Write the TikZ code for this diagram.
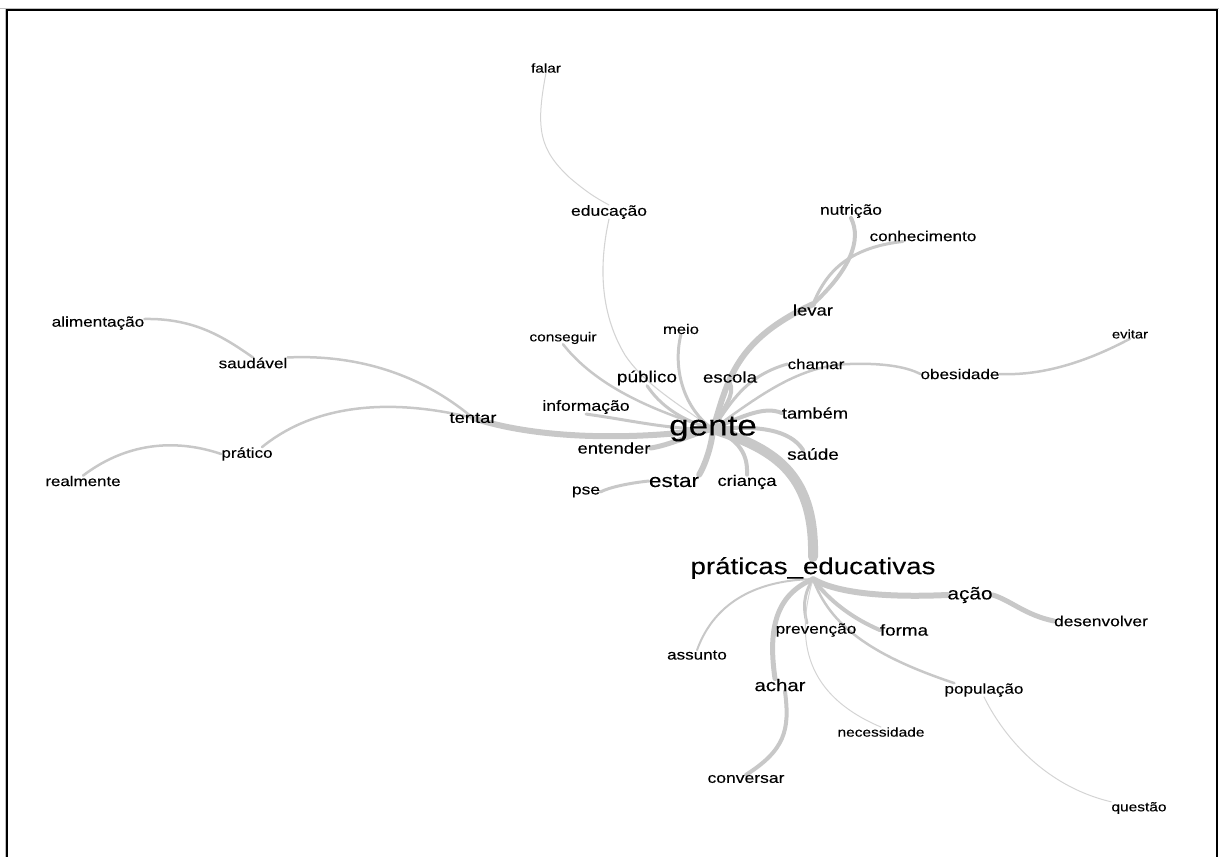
\documentclass[tikz,border=0pt]{standalone}
\usepackage{fontspec}
\setmainfont{Liberation Sans}[FakeStretch=1.2,FakeBold=0.15]
\usetikzlibrary{backgrounds,calc}
\definecolor{eg}{RGB}{200,200,200}
\definecolor{egl}{RGB}{212,212,212}
\begin{document}
\begin{tikzpicture}[x=1pt,y=-1pt,
  wd/.style={inner sep=0pt, yshift=-2pt, text=black, font=\fontsize{#1}{#1}\selectfont},
  ln/.style={draw=eg, line width=#1, line cap=round},
  lnt/.style={draw=egl, line width=#1, line cap=round}]
\useasboundingbox (0,0) rectangle (1219,857);
% frame
\draw[gray!50, line width=0.8pt] (0,8.3) -- (1219,8.3);
\draw[gray!50, line width=0.8pt] (5,8.3) -- (5,857);
\draw[black, line width=2.4pt] (7,880) -- (7,10) -- (1217,10) -- (1217,880);

% words
\node[wd=12.8] (falar) at (546,66) {falar};
\node[wd=14.6] (educacao) at (609,210) {educação};
\node[wd=14.5] (nutricao) at (851,209) {nutrição};
\node[wd=14.3] (conhecimento) at (923,234) {conhecimento};
\node[wd=15.4] (levar) at (813,308) {levar};
\node[wd=14.3] (alimentacao) at (98,321) {alimentação};
\node[wd=13.8] (meio) at (681,327) {meio};
\node[wd=12.9] (conseguir) at (563,336) {conseguir};
\node[wd=12.3] (evitar) at (1130,332) {evitar};
\node[wd=14.3] (saudavel) at (253,361) {saudável};
\node[wd=14.2] (chamar) at (816,362) {chamar};
\node[wd=14.25] (obesidade) at (960,372) {obesidade};
\node[wd=15.8] (publico) at (647,376) {público};
\node[wd=15.6] (escola) at (730,375) {escola};
\node[wd=14.7] (informacao) at (586,405) {informação};
\node[wd=15.3] (tentar) at (473,416) {tentar};
\node[wd=15.25] (tambem) at (815,411) {também};
\node[wd=29.2] (gente) at (713,427) {gente};
\node[wd=15.4] (entender) at (614,446) {entender};
\node[wd=14.2] (pratico) at (247,452) {prático};
\node[wd=15.8] (saude) at (813,452) {saúde};
\node[wd=14.1] (realmente) at (83,479) {realmente};
\node[wd=18.75] (estar) at (674,479) {estar};
\node[wd=15.25] (crianca) at (747,480) {criança};
\node[wd=14.5] (pse) at (586,490) {pse};
\node[wd=23.1] (praticas) at (813,566) {práticas\_educativas};
\node[wd=17.3] (acao) at (970,593) {ação};
\node[wd=14.5] (desenvolver) at (1101,619) {desenvolver};
\node[wd=14.4] (prevencao) at (816,628) {prevenção};
\node[wd=15.7] (forma) at (904,628) {forma};
\node[wd=14.2] (assunto) at (697,653) {assunto};
\node[wd=17] (achar) at (780,683) {achar};
\node[wd=14.25] (populacao) at (984,688) {população};
\node[wd=12.9] (necessidade) at (881,730) {necessidade};
\node[wd=14.6] (conversar) at (746,777) {conversar};
\node[wd=12.9] (questao) at (1139,806) {questão};

\begin{pgfonlayer}{background}
% gente hub
\draw[ln=10pt] (gente.center) .. controls (770,448) and (815,470) .. (praticas.north);
\draw[ln=6pt] (gente.center) .. controls (620,442) and (530,437) .. (tentar.center);
\draw[ln=6pt] (gente.center) .. controls (728,380) and (735,340) .. (levar.north);
\draw[lnt=1.1pt] (gente.center) .. controls (680,405) and (645,385) .. (625,355)
   .. controls (598,310) and (600,260) .. (educacao.south);
\draw[ln=3pt] (gente.center) .. controls (685,410) and (672,370) .. (meio.south);
\draw[ln=3pt] (gente.center) .. controls (680,420) and (660,405) .. (publico.south);
\draw[ln=2.5pt] (gente.center) .. controls (650,410) and (595,385) .. (conseguir.south);
\draw[ln=3pt] (gente.center) .. controls (670,430) and (630,420) .. (informacao.south);
\draw[ln=5pt] (gente.center) .. controls (690,435) and (670,445) .. (entender.east);
\draw[ln=6pt] (gente.center) .. controls (712,445) and (705,465) .. (estar.north east);
\draw[ln=4pt] (gente.center) .. controls (740,440) and (748,455) .. (crianca.north);
\draw[ln=4pt] (gente.center) .. controls (760,425) and (790,430) .. ($(saude.north)+(-10,2)$);
\draw[ln=4pt] (gente.center) .. controls (745,415) and (765,406) .. (tambem.west);
\draw[ln=4pt] (gente.center) .. controls (725,405) and (735,395) .. (escola.south);
\draw[ln=3pt] (gente.center) .. controls (735,395) and (750,375) .. (chamar.west);
\draw[ln=2.5pt] (gente.center) .. controls (760,395) and (800,365) .. (850,364)
   .. controls (880,363) and (905,366) .. (obesidade.west);
% outer branches top
\draw[lnt=1pt] (falar.south) .. controls (535,130) and (540,150) .. (570,178)
   .. controls (590,195) and (600,200) .. (educacao.north);
\draw[ln=4pt] (levar.north) .. controls (850,270) and (862,240) .. (nutricao.south);
\draw[ln=3pt] (levar.north) .. controls (825,275) and (845,248) .. ($(conhecimento.south)+(-20,0)$);
\draw[ln=2.5pt] (obesidade.east) .. controls (1045,376) and (1090,360) .. (evitar.south);
\draw[ln=3pt] (estar.west) .. controls (630,483) and (610,487) .. (pse.east);
% left branches
\draw[ln=2.5pt] (tentar.center) .. controls (410,365) and (340,355) .. (saudavel.north east);
\draw[ln=2.5pt] (saudavel.north) .. controls (225,338) and (195,318) .. ($(alimentacao.east)+(0,-4)$);
\draw[ln=2.5pt] (tentar.center) .. controls (400,400) and (320,400) .. ($(pratico.north)+(15,0)$);
\draw[ln=2.5pt] (pratico.west) .. controls (180,440) and (130,440) .. (realmente.north);
% práticas branches
\draw[ln=6pt] (praticas.south) .. controls (835,592) and (880,598) .. (acao.west);
\draw[ln=5pt] (acao.east) .. controls (1010,600) and (1025,615) .. (desenvolver.west);
\draw[ln=4pt] (praticas.south) .. controls (825,595) and (845,615) .. (forma.west);
\draw[ln=2.5pt] (praticas.south) .. controls (830,625) and (870,655) .. ($(populacao.north west)+(10,0)$);
\draw[lnt=1pt] (populacao.south) .. controls (1000,730) and (1040,785) .. (questao.north west);
\draw[ln=3pt] (praticas.south) .. controls (803,595) and (803,608) .. ($(prevencao.north)+(-9,0)$);
\draw[lnt=1pt] (praticas.south) .. controls (795,640) and (805,695) .. (necessidade.north);
\draw[ln=5pt] (praticas.south) .. controls (775,595) and (768,630) .. ($(achar.north)+(-5,0)$);
\draw[ln=4pt] ($(achar.south)+(5,0)$) .. controls (790,730) and (785,750) .. (conversar.north);
\draw[ln=2pt] (praticas.south) .. controls (760,580) and (715,600) .. (assunto.north);
\end{pgfonlayer}
\end{tikzpicture}
\end{document}
